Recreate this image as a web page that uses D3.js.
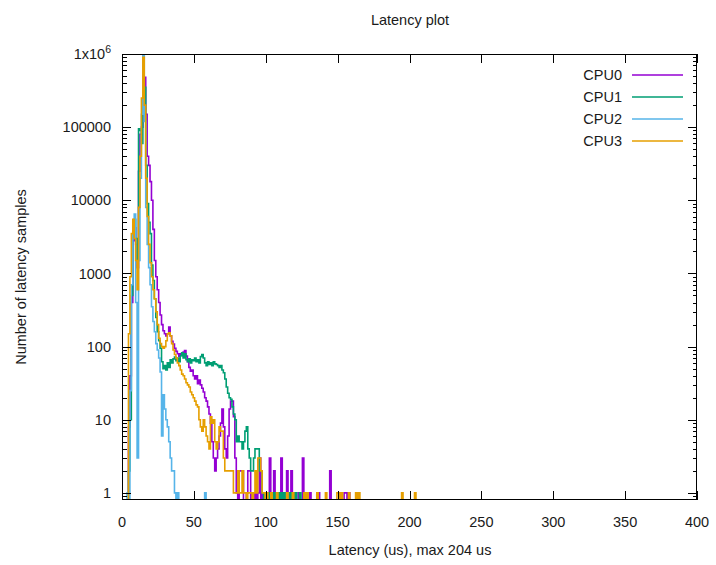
<!DOCTYPE html>
<html>
<head>
<meta charset="utf-8">
<title>Latency plot</title>
<script src="https://cdn.jsdelivr.net/npm/d3@7/dist/d3.min.js"></script>
<style>
  html, body { margin: 0; padding: 0; background: #ffffff; }
  svg text { font-family: "Liberation Sans", Arial, sans-serif; font-size: 14.5px; fill: #1a1a1a; }
</style>
</head>
<body>
<svg id="chart" width="716" height="565"></svg>
<script>
// Histogram of latency samples, one bin per microsecond (index = latency in us).
const seriesNames = ["CPU0", "CPU1", "CPU2", "CPU3"];
const seriesColors = ["#9400d3", "#009e73", "#56b4e9", "#e69f00"];

const cpu0 = [
  0, 0, 0, 0, 0, 8, 40, 400, 2800, 4200,                       // 0-9
  2500, 1200, 25000, 80000, 100000, 200000, 480000, 150000, 40000, 30000, // 10-19
  18000, 10000, 4000, 1500, 900, 600, 400, 270, 200, 165,       // 20-29
  150, 140, 150, 185, 140, 118, 108, 95, 86, 80,                // 30-39
  74, 80, 76, 84, 88, 74, 62, 52, 46, 48,                       // 40-49
  40, 36, 40, 31, 35, 30, 27, 24, 20, 18,                       // 50-59
  15, 12, 9, 5, 3, 2, 3, 4, 6, 9,                               // 60-69
  14, 8, 4, 3, 6, 14, 18, 18, 11, 3,                            // 70-79
  1, 0, 2, 2, 2, 0, 0, 1, 2, 2,                                 // 80-89
  0, 1, 0, 1, 0, 1, 3, 0, 1, 0,                                 // 90-99
  1, 0, 0, 3, 0, 1, 2, 0, 1, 0,                                 // 100-109
  0, 3, 0, 1, 0, 2, 0, 0, 2, 0,                                 // 110-119
  1, 0, 0, 1, 0, 0, 3, 0, 0, 0,                                 // 120-129
  0, 1, 0, 0, 0, 0, 1, 1, 0, 0,                                 // 130-139
  0, 0, 0, 0, 0, 2, 0, 0, 0, 0,                                 // 140-149
  0, 0, 1, 0, 0, 1, 1, 0, 1, 0                                  // 150-159
];

const cpu1 = [
  0, 0, 0, 0, 0, 2, 10, 500, 4000, 5500,                        // 0-9
  3000, 1500, 95000, 90000, 60000, 300000, 350000, 30000, 9000, 5000, // 10-19
  3500, 1300, 800, 450, 250, 160, 120, 95, 62, 50,              // 20-29
  55, 48, 60, 52, 66, 60, 68, 72, 64, 70,                       // 30-39
  62, 75, 82, 70, 80, 66, 62, 68, 60, 66,                       // 40-49
  64, 70, 62, 66, 60, 73, 78, 70, 60, 55,                       // 50-59
  62, 57, 60, 55, 62, 58, 57, 55, 52, 55,                       // 60-69
  48, 44, 36, 28, 23, 20, 19, 15, 12, 10,                       // 70-79
  5, 6, 5, 5, 4, 5, 7, 8, 4, 3,                                 // 80-89
  2, 2, 3, 4, 4, 4, 2, 2, 1, 0,                                 // 90-99
  1, 0, 1, 0, 1, 1, 0, 1, 1, 0,                                 // 100-109
  1, 0, 1, 0, 1, 0, 0, 1, 0, 1,                                 // 110-119
  0, 1, 0, 0, 1, 0, 0, 0, 1, 0                                  // 120-129
];

const cpu2 = [
  0, 0, 0, 0, 1, 0, 25, 700, 5000, 6500,                        // 0-9
  400, 3, 1500, 20000, 150000, 1200000, 120000, 8000, 2500, 1200, // 10-19
  700, 350, 220, 160, 110, 90, 70, 45, 6, 22,                   // 20-29
  14, 10, 8, 5, 3, 2, 2, 1, 0, 1,                               // 30-39
  0, 0, 0, 0, 0, 0, 0, 0, 0, 0,                                 // 40-49
  0, 0, 0, 0, 0, 0, 0, 0, 1, 0                                  // 50-59
];

const cpu3 = [
  0, 0, 0, 0, 0, 150, 900, 3500, 5500, 3000,                    // 0-9
  1500, 600, 8000, 40000, 250000, 900000, 200000, 20000, 6000, 2500, // 10-19
  1400, 900, 600, 450, 300, 200, 130, 110, 100, 95,             // 20-29
  100, 120, 150, 155, 140, 110, 90, 78, 70, 60,                 // 30-39
  55, 48, 42, 40, 36, 32, 30, 28, 24, 22,                       // 40-49
  20, 18, 16, 15, 10, 8, 7, 10, 8, 6,                           // 50-59
  5, 4, 11, 9, 10, 5, 4, 5, 8, 7,                               // 60-69
  7, 3, 2, 2, 2, 2, 2, 2, 1, 1,                                 // 70-79
  1, 2, 1, 1, 2, 1, 1, 0, 1, 1,                                 // 80-89
  1, 0, 1, 2, 1, 3, 3, 2, 1, 1,                                 // 90-99
  0, 1, 0, 0, 1, 0, 0, 0, 1, 0,                                 // 100-109
  0, 0, 0, 0, 0, 1, 0, 0, 0, 1,                                 // 110-119
  0, 0, 0, 0, 0, 0, 0, 1, 0, 1,                                 // 120-129
  0, 0, 0, 0, 0, 0, 1, 0, 0, 0,                                 // 130-139
  0, 0, 1, 0, 0, 0, 0, 0, 0, 0,                                 // 140-149
  1, 1, 0, 1, 0, 0, 0, 0, 1, 0,                                 // 150-159
  0, 0, 0, 1, 0, 1, 0, 0, 0, 0,                                 // 160-169
  0, 0, 0, 0, 0, 0, 0, 0, 0, 0,                                 // 170-179
  0, 0, 0, 0, 0, 0, 0, 0, 0, 0,                                 // 180-189
  0, 0, 0, 0, 0, 1, 0, 0, 0, 0,                                 // 190-199
  0, 0, 0, 0, 1, 0                                              // 200-205
];

const seriesValues = [cpu0, cpu1, cpu2, cpu3];

const xTicks = [0, 50, 100, 150, 200, 250, 300, 350, 400];
const yTicks = [1, 10, 100, 1000, 10000, 100000, 1000000];
const yTickLabels = ["1", "10", "100", "1000", "10000", "100000", "1x10^6"];

const titleText = "Latency plot";
const xLabelText = "Latency (us), max 204 us";
const yLabelText = "Number of latency samples";

// ---- layout ----
const plot = { left: 122, right: 697, top: 54, bottom: 500 };
const majorLen = 9, minorLen = 4.5;

const svg = d3.select("#chart");

const x = d3.scaleLinear().domain([0, 400]).range([plot.left, plot.right]);
const y = d3.scaleLog().domain([0.8, 1000000]).range([plot.bottom, plot.top]);

svg.append("defs").append("clipPath").attr("id", "plotClip")
  .append("rect")
  .attr("x", plot.left).attr("y", plot.top)
  .attr("width", plot.right - plot.left).attr("height", plot.bottom - plot.top);

// ---- histogram step lines (bin k spans k-0.5 .. k+0.5) ----
const floorValue = 0.3; // empty bins fall below the visible range
const stepLine = d3.line()
  .x(d => x(d[0]))
  .y(d => y(Math.max(d[1], floorValue)))
  .curve(d3.curveStepAfter);

const lines = svg.append("g").attr("clip-path", "url(#plotClip)");
seriesValues.forEach((vals, i) => {
  const pts = vals.map((v, k) => [k - 0.5, v]);
  pts.push([vals.length - 0.5, vals[vals.length - 1]]);
  lines.append("path")
    .attr("d", stepLine(pts))
    .attr("fill", "none")
    .attr("stroke", seriesColors[i])
    .attr("stroke-width", 1.6)
    .attr("stroke-linejoin", "miter");
});

// ---- ticks (inward, mirrored on all sides) ----
const tickG = svg.append("g").attr("stroke", "#000").attr("stroke-width", 1).attr("shape-rendering", "crispEdges");

xTicks.forEach(t => {
  const px = Math.round(x(t)) + 0.5;
  tickG.append("line").attr("x1", px).attr("x2", px).attr("y1", plot.bottom).attr("y2", plot.bottom - majorLen);
  tickG.append("line").attr("x1", px).attr("x2", px).attr("y1", plot.top).attr("y2", plot.top + majorLen);
});

const minorY = [0.9];
for (let d = 0; d < 6; d++) {
  for (let k = 2; k <= 9; k++) minorY.push(k * Math.pow(10, d));
}
yTicks.forEach(t => {
  const py = Math.round(y(t)) + 0.5;
  tickG.append("line").attr("x1", plot.left).attr("x2", plot.left + majorLen).attr("y1", py).attr("y2", py);
  tickG.append("line").attr("x1", plot.right).attr("x2", plot.right - majorLen).attr("y1", py).attr("y2", py);
});
minorY.forEach(t => {
  const py = Math.round(y(t)) + 0.5;
  tickG.append("line").attr("x1", plot.left).attr("x2", plot.left + minorLen).attr("y1", py).attr("y2", py);
  tickG.append("line").attr("x1", plot.right).attr("x2", plot.right - minorLen).attr("y1", py).attr("y2", py);
});

// ---- border ----
svg.append("rect")
  .attr("x", plot.left + 0.5).attr("y", plot.top + 0.5)
  .attr("width", plot.right - plot.left - 1).attr("height", plot.bottom - plot.top - 1)
  .attr("fill", "none").attr("stroke", "#000").attr("stroke-width", 1)
  .attr("shape-rendering", "crispEdges");

// ---- tick labels ----
xTicks.forEach(t => {
  svg.append("text")
    .attr("x", x(t)).attr("y", 522).attr("dy", "0.35em")
    .attr("text-anchor", "middle").text(String(t));
});

yTicks.forEach((t, i) => {
  const label = yTickLabels[i];
  const txt = svg.append("text")
    .attr("x", 111).attr("y", y(t)).attr("dy", "0.35em")
    .attr("text-anchor", "end");
  const caret = label.indexOf("^");
  if (caret >= 0) {
    txt.append("tspan").text(label.slice(0, caret));
    txt.append("tspan").attr("dy", "-6").style("font-size", "10.5px").text(label.slice(caret + 1));
  } else {
    txt.text(label);
  }
});

// ---- titles ----
svg.append("text").attr("x", 410).attr("y", 20).attr("dy", "0.35em")
  .attr("text-anchor", "middle").text(titleText);
svg.append("text").attr("x", 410).attr("y", 550).attr("dy", "0.35em")
  .attr("text-anchor", "middle").text(xLabelText);
svg.append("text")
  .attr("transform", "translate(21,277) rotate(-90)")
  .attr("dy", "0.35em").attr("text-anchor", "middle").text(yLabelText);

// ---- legend ----
const legendRows = [75, 97, 119, 141];
seriesNames.forEach((name, i) => {
  svg.append("text").attr("x", 622).attr("y", legendRows[i]).attr("dy", "0.35em")
    .attr("text-anchor", "end").text(name);
  svg.append("line")
    .attr("x1", 632).attr("x2", 683)
    .attr("y1", legendRows[i]).attr("y2", legendRows[i])
    .attr("stroke", seriesColors[i]).attr("stroke-width", 1.6);
});
</script>
</body>
</html>
